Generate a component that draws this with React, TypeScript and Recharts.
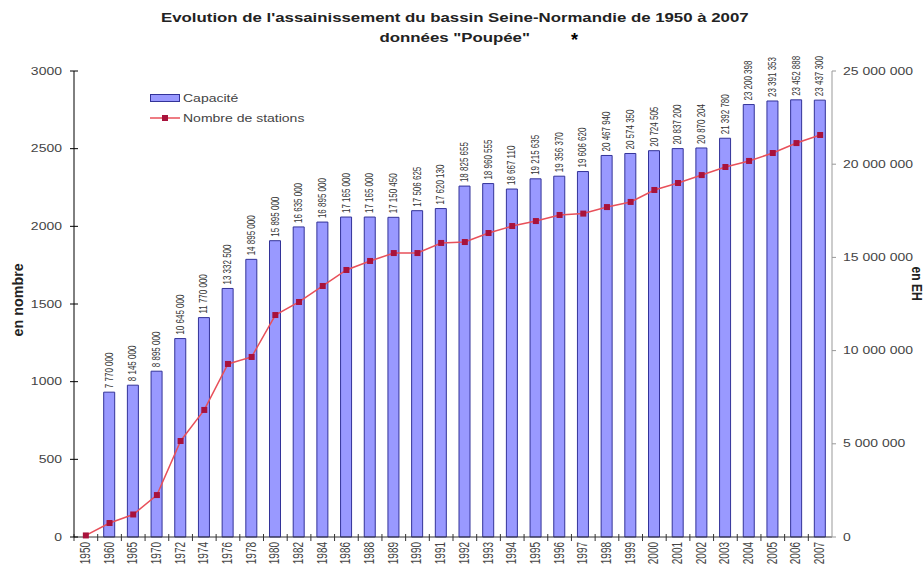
import React from 'react';
import { ComposedChart, Bar, Line, XAxis, YAxis, LabelList } from 'recharts';

const years = ['1950','1960','1965','1970','1972','1974','1976','1978','1980','1982','1984','1986','1988','1989','1990','1991','1992','1993','1994','1995','1996','1997','1998','1999','2000','2001','2002','2003','2004','2005','2006','2007'];

const capacity = [null, 7770000, 8145000, 8895000, 10645000, 11770000, 13332500, 14895000, 15895000, 16635000, 16895000, 17165000, 17165000, 17150450, 17506625, 17620130, 18825655, 18960555, 18667110, 19215635, 19356370, 19606620, 20467940, 20574350, 20724505, 20837200, 20870204, 21392780, 23200398, 23391353, 23452888, 23437300];

const stations = [10, 90, 145, 270, 618, 818, 1114, 1159, 1429, 1513, 1616, 1719, 1777, 1828, 1828, 1893, 1899, 1957, 2002, 2034, 2073, 2082, 2124, 2157, 2234, 2279, 2330, 2382, 2421, 2472, 2536, 2588];

const leftTicks = [0, 500, 1000, 1500, 2000, 2500, 3000];
const rightTicks = [0, 5000000, 10000000, 15000000, 20000000, 25000000];

const data = years.map((y, i) => ({ year: y, capacite: capacity[i], stations: stations[i] }));

const FONT = '"Liberation Sans", Arial, sans-serif';
const SX = 1.4;

const fmt = (v: number) => String(Math.round(v)).replace(/\B(?=(\d{3})+(?!\d))/g, ' ');

const XTick = (props: any) => {
  const { x, y, payload } = props;
  const off = payload && typeof payload.offset === 'number' ? payload.offset : 0;
  const ay = y - 8;
  return (
    <g>
      <line x1={x - off} x2={x - off} y1={ay - 3} y2={ay + 4} stroke="#333" />
      <text transform={`translate(${x + 4},${y - 3}) rotate(-90) scale(1,${SX})`} textAnchor="end" fontSize={10} fill="#444" fontFamily={FONT}>
        {payload.value}
      </text>
    </g>
  );
};

const LeftTick = (props: any) => {
  const { x, y, payload } = props;
  const ax = x + 12;
  return (
    <g>
      <line x1={ax - 4} x2={ax + 4} y1={y} y2={y} stroke="#000" />
      <text transform={`translate(${x},${y}) scale(${SX},1)`} textAnchor="end" dy="0.35em" fontSize={10} fill="#444" fontFamily={FONT}>
        {payload.value}
      </text>
    </g>
  );
};

const RightTick = (props: any) => {
  const { x, y, payload } = props;
  const ax = x - 11;
  return (
    <g>
      <line x1={ax} x2={ax + 4} y1={y} y2={y} stroke="#999" />
      <text transform={`translate(${x},${y}) scale(${SX},1)`} textAnchor="start" dy="0.35em" fontSize={10} fill="#444" fontFamily={FONT}>
        {fmt(payload.value)}
      </text>
    </g>
  );
};

const BarLabel = (props: any) => {
  const { x, y, width, value } = props;
  if (value == null) return null;
  const cx = x + width / 2 + 3.5;
  return (
    <text transform={`translate(${cx},${y - 4}) rotate(-90) scale(1,1.3)`} textAnchor="start" fontSize={8} fill="#333" fontFamily={FONT}>
      {fmt(value)}
    </text>
  );
};

const Dot = (props: any) => {
  const { cx, cy } = props;
  if (cx == null || cy == null) return null;
  return <rect x={cx - 3} y={cy - 3} width={6} height={6} fill="#A8123C" />;
};

const stretch = { transform: `scaleX(${SX})`, transformOrigin: 'left center', display: 'inline-block' } as const;

export default function App() {
  return (
    <div style={{ position: 'absolute', left: 0, top: 0, width: 924, height: 580, background: '#fff', fontFamily: FONT }}>
      <div style={{ position: 'absolute', left: 0, width: 910, top: 11, textAlign: 'center', fontWeight: 'bold', fontSize: 12, color: '#222' }}>
        <span style={{ display: 'inline-block', transform: `scaleX(${SX})` }}>
          Evolution de l'assainissement du bassin Seine-Normandie de 1950 à 2007
        </span>
      </div>
      <div style={{ position: 'absolute', left: 0, width: 910, top: 31, textAlign: 'center', fontWeight: 'bold', fontSize: 12, color: '#222' }}>
        <span style={{ display: 'inline-block', transform: `scaleX(${SX})` }}>données "Poupée"</span>
      </div>
      <div style={{ position: 'absolute', left: 571, top: 30, fontWeight: 'bold', fontSize: 18, color: '#000' }}>*</div>
      <div style={{ position: 'absolute', left: 18 - 50, top: 294, width: 100, textAlign: 'center', transform: 'rotate(-90deg)', fontWeight: 'bold', fontSize: 11, color: '#222', whiteSpace: 'nowrap' }}>
        <span style={{ display: 'inline-block', transform: 'scale(1.3,1.3)' }}>en nombre</span>
      </div>
      <div style={{ position: 'absolute', left: 917 - 50, top: 278, width: 100, textAlign: 'center', transform: 'rotate(90deg)', fontWeight: 'bold', fontSize: 11, color: '#222', whiteSpace: 'nowrap' }}>
        <span style={{ display: 'inline-block', transform: 'scale(1.1,1.3)' }}>en EH</span>
      </div>
      <div style={{ position: 'absolute', left: 150, top: 88, fontSize: 10, color: '#444' }}>
        <div style={{ display: 'flex', alignItems: 'center', height: 20 }}>
          <span style={{ display: 'inline-block', width: 28, height: 6, background: '#9999FF', border: '1px solid #333399', marginRight: 3 }} />
          <span style={stretch}>Capacité</span>
        </div>
        <div style={{ display: 'flex', alignItems: 'center', height: 20 }}>
          <svg width={30} height={8} style={{ marginRight: 3 }}>
            <line x1={0} x2={30} y1={4} y2={4} stroke="#E8505A" strokeWidth={1.5} />
            <rect x={12} y={1} width={6} height={6} fill="#A8123C" />
          </svg>
          <span style={stretch}>Nombre de stations</span>
        </div>
      </div>
      <div style={{ position: 'absolute', left: 0, top: 0 }}>
        <ComposedChart width={924} height={580} data={data} margin={{ top: 71, right: 0, bottom: 0, left: 0 }} barCategoryGap={0}>
          <XAxis dataKey="year" height={43} stroke="#333" tickLine={false} tick={<XTick />} interval={0} />
          <YAxis yAxisId="left" orientation="left" width={74} domain={[0, 3000]} ticks={leftTicks} stroke="#000" tickLine={false} tickSize={4} tickMargin={8} tick={<LeftTick />} />
          <YAxis yAxisId="right" orientation="right" width={92} domain={[0, 25000000]} ticks={rightTicks} stroke="#999" tickLine={false} tickSize={4} tickMargin={7} tick={<RightTick />} />
          <Bar yAxisId="right" dataKey="capacite" fill="#9999FF" stroke="#333399" strokeWidth={1} barSize={11} isAnimationActive={false}>
            <LabelList dataKey="capacite" content={<BarLabel />} />
          </Bar>
          <Line yAxisId="left" dataKey="stations" stroke="#E8505A" strokeWidth={1.5} dot={<Dot />} activeDot={false} isAnimationActive={false} />
        </ComposedChart>
      </div>
    </div>
  );
}
